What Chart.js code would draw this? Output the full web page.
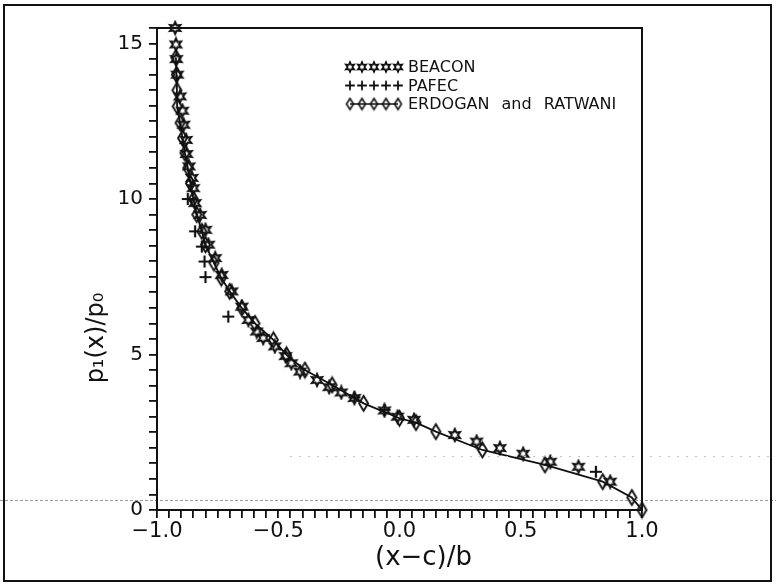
<!DOCTYPE html>
<html>
<head>
<meta charset="utf-8">
<script src="https://cdn.jsdelivr.net/npm/chart.js@4/dist/chart.umd.min.js"></script>
<style>
html,body{margin:0;padding:0;background:#fff;}
#wrap{width:776px;height:586px;position:relative;}
</style>
</head>
<body>
<div id="wrap"><canvas id="c" width="776" height="586"></canvas></div>
<script>
// ---- data ----
const seriesNames = ['BEACON', 'PAFEC', 'ERDOGAN and RATWANI'];

const beaconX = [-0.925,-0.922,-0.920,-0.916,-0.905,-0.895,-0.890,-0.880,-0.878,-0.868,-0.856,-0.850,-0.843,-0.822,-0.800,-0.788,-0.760,-0.733,-0.692,-0.650,-0.623,-0.589,-0.562,-0.514,-0.470,-0.446,-0.410,-0.340,-0.290,-0.240,-0.186,-0.062,-0.008,0.060,0.228,0.318,0.414,0.510,0.622,0.738,0.869];
const beaconY = [15.5,14.97,14.5,14.0,13.3,12.84,12.39,11.9,11.45,11.05,10.68,10.35,9.87,9.49,9.01,8.53,8.10,7.56,7.03,6.54,6.11,5.74,5.53,5.26,4.95,4.72,4.45,4.18,3.95,3.78,3.60,3.20,3.00,2.90,2.41,2.20,1.99,1.81,1.55,1.39,0.91];

const pafecX = [-0.873,-0.843,-0.815,-0.804,-0.800,-0.706,-0.186,-0.062,0.810];
const pafecY = [10.0,8.96,8.47,7.99,7.49,6.22,3.62,3.22,1.23];

const erdoganX = [-0.922,-0.920,-0.918,-0.917,-0.905,-0.895,-0.885,-0.873,-0.862,-0.850,-0.836,-0.815,-0.800,-0.765,-0.735,-0.700,-0.650,-0.596,-0.520,-0.466,-0.390,-0.278,-0.148,0.000,0.068,0.150,0.342,0.600,0.838,0.958,1.000];
const erdoganY = [14.55,14.0,13.5,12.98,12.45,11.96,11.48,11.0,10.5,10.0,9.5,8.96,8.53,7.94,7.46,7.03,6.49,6.0,5.47,4.99,4.5,4.02,3.43,2.95,2.81,2.52,1.93,1.45,0.91,0.40,0.0];

const xMajorTicks = [-1.0, -0.5, 0.0, 0.5, 1.0];
const yMajorTicks = [0, 5, 10, 15];
const xAxisTitle = '(x\u2212c)/b';
const yAxisTitle = 'p\u2081(x)/p\u2080';

// ---- marker glyphs ----
function makeCanvas(w, h) { const c = document.createElement('canvas'); c.width = w; c.height = h; return c; }
function makeStar(r, lw) {
  const s = Math.ceil(r * 2 + 4), c = makeCanvas(s, s), g = c.getContext('2d');
  g.beginPath();
  for (let i = 0; i < 12; i++) {
    const a = -Math.PI / 2 + i * Math.PI / 6, rr = (i % 2) ? r * 0.5 : r;
    const px = s / 2 + rr * Math.cos(a), py = s / 2 + rr * Math.sin(a);
    if (i === 0) g.moveTo(px, py); else g.lineTo(px, py);
  }
  g.closePath(); g.lineWidth = lw; g.strokeStyle = '#111'; g.stroke();
  return c;
}
function makeDiamond(w, h, lw) {
  const c = makeCanvas(w + 4, h + 4), g = c.getContext('2d'), cx = (w + 4) / 2, cy = (h + 4) / 2;
  g.beginPath();
  g.moveTo(cx, cy - h / 2); g.lineTo(cx + w / 2, cy); g.lineTo(cx, cy + h / 2); g.lineTo(cx - w / 2, cy); g.closePath();
  g.lineWidth = lw; g.strokeStyle = '#111'; g.stroke();
  return c;
}
function makePlus(r, lw) {
  const s = Math.ceil(r * 2 + 4), c = makeCanvas(s, s), g = c.getContext('2d');
  g.beginPath();
  g.moveTo(s / 2 - r, s / 2); g.lineTo(s / 2 + r, s / 2);
  g.moveTo(s / 2, s / 2 - r); g.lineTo(s / 2, s / 2 + r);
  g.lineWidth = lw; g.strokeStyle = '#111'; g.stroke();
  return c;
}
const starImg = makeStar(6, 2), plusImg = makePlus(6, 2.2), diaImg = makeDiamond(9, 15, 1.9);
const starSmall = makeStar(4.8, 1.7), plusSmall = makePlus(4.8, 1.8), diaSmall = makeDiamond(7, 11, 1.6);

const toPts = (xs, ys) => xs.map((x, i) => ({ x: x, y: ys[i] }));

// ---- plugins ----
const framePlugin = {
  id: 'frame',
  beforeDraw(chart) {
    const ctx = chart.ctx;
    ctx.save(); ctx.fillStyle = '#fff'; ctx.fillRect(0, 0, chart.width, chart.height); ctx.restore();
  },
  afterDraw(chart) {
    const ctx = chart.ctx, a = chart.chartArea;
    ctx.save();
    // faint scan lines of the original print
    ctx.strokeStyle = '#9a9a9a'; ctx.lineWidth = 1; ctx.setLineDash([3, 2]);
    ctx.beginPath(); ctx.moveTo(0, a.bottom - 9.5); ctx.lineTo(chart.width, a.bottom - 9.5); ctx.stroke();
    ctx.strokeStyle = '#c4c4c4'; ctx.setLineDash([2, 7]);
    ctx.beginPath(); ctx.moveTo(a.left + 133, a.bottom - 53.5); ctx.lineTo(chart.width - 5, a.bottom - 53.5); ctx.stroke();
    ctx.setLineDash([]);
    ctx.strokeStyle = '#111';
    ctx.lineWidth = 2;
    ctx.strokeRect(a.left, a.top, a.right - a.left, a.bottom - a.top);
    ctx.strokeRect(4, 5, chart.width - 9, chart.height - 10);
    // axis titles
    ctx.fillStyle = '#111';
    ctx.textAlign = 'center'; ctx.textBaseline = 'middle';
    ctx.font = '26px "DejaVu Sans", sans-serif';
    ctx.fillText(xAxisTitle, (a.left + a.right) / 2 + 24, a.bottom + 48);
    ctx.save();
    ctx.translate(a.left - 60, (a.top + a.bottom) / 2 + 69);
    ctx.rotate(-Math.PI / 2);
    ctx.font = '24px "DejaVu Sans", sans-serif';
    ctx.fillText(yAxisTitle, 0, 0);
    ctx.restore();
    // legend
    const imgs = [starSmall, plusSmall, diaSmall];
    const lx = a.left + 193, ly = a.top + 39, dy = 18.5, step = 12;
    ctx.font = '16px "DejaVu Sans", sans-serif';
    ctx.textAlign = 'left'; ctx.textBaseline = 'middle';
    seriesNames.forEach((name, i) => {
      const y = ly + i * dy;
      if (i === 2) {
        ctx.beginPath(); ctx.moveTo(lx, y); ctx.lineTo(lx + 4 * step, y);
        ctx.lineWidth = 1.5; ctx.stroke();
      }
      for (let k = 0; k < 5; k++) {
        const im = imgs[i];
        ctx.drawImage(im, lx + k * step - im.width / 2, y - im.height / 2);
      }
      try { ctx.wordSpacing = '7px'; } catch (e) {}
      ctx.fillText(name, lx + 4 * step + 10, y + 1);
      try { ctx.wordSpacing = '0px'; } catch (e) {}
    });
    ctx.restore();
  }
};

const near = (v, list) => list.some(t => Math.abs(v - t) < 1e-6);

new Chart(document.getElementById('c'), {
  type: 'scatter',
  data: {
    datasets: [
      { label: seriesNames[0], data: toPts(beaconX, beaconY), pointStyle: starImg, showLine: false, clip: false },
      { label: seriesNames[1], data: toPts(pafecX, pafecY), pointStyle: plusImg, showLine: false, clip: false },
      { label: seriesNames[2], data: toPts(erdoganX, erdoganY), pointStyle: diaImg, showLine: true,
        borderColor: '#111', borderWidth: 1.8, tension: 0, clip: false }
    ]
  },
  options: {
    responsive: false,
    devicePixelRatio: 1,
    animation: false,
    events: [],
    layout: { padding: { top: 28, right: 134, left: 0, bottom: 0 } },
    plugins: { legend: { display: false }, tooltip: { enabled: false } },
    scales: {
      x: {
        type: 'linear', min: -1, max: 1,
        afterFit: s => { s.height = 76; },
        border: { display: true, color: '#111', width: 2 },
        grid: { drawOnChartArea: false, drawTicks: true, tickLength: 8, color: '#111', lineWidth: 1.8 },
        ticks: {
          stepSize: 0.05, autoSkip: false, maxRotation: 0, minRotation: 0, maxTicksLimit: 1000, padding: 1,
          color: '#111', font: { family: '"DejaVu Sans", sans-serif', size: 21 },
          callback: v => near(v, xMajorTicks) ? (v < 0 ? '\u2212' + Math.abs(v).toFixed(1) : v.toFixed(1)) : ''
        }
      },
      y: {
        type: 'linear', min: 0, max: 15.5,
        afterFit: s => { s.width = 157; },
        border: { display: true, color: '#111', width: 2 },
        grid: { drawOnChartArea: false, drawTicks: true, tickLength: 8, color: '#111', lineWidth: 1.8 },
        ticks: {
          stepSize: 0.5, autoSkip: false, maxTicksLimit: 1000, padding: 6,
          color: '#111', font: { family: '"DejaVu Sans", sans-serif', size: 20 },
          callback: v => near(v, yMajorTicks) ? String(Math.round(v)) : ''
        }
      }
    },
    elements: { point: { radius: 5, borderColor: '#111', backgroundColor: 'rgba(0,0,0,0)' } }
  },
  plugins: [framePlugin]
});
</script>
</body>
</html>
